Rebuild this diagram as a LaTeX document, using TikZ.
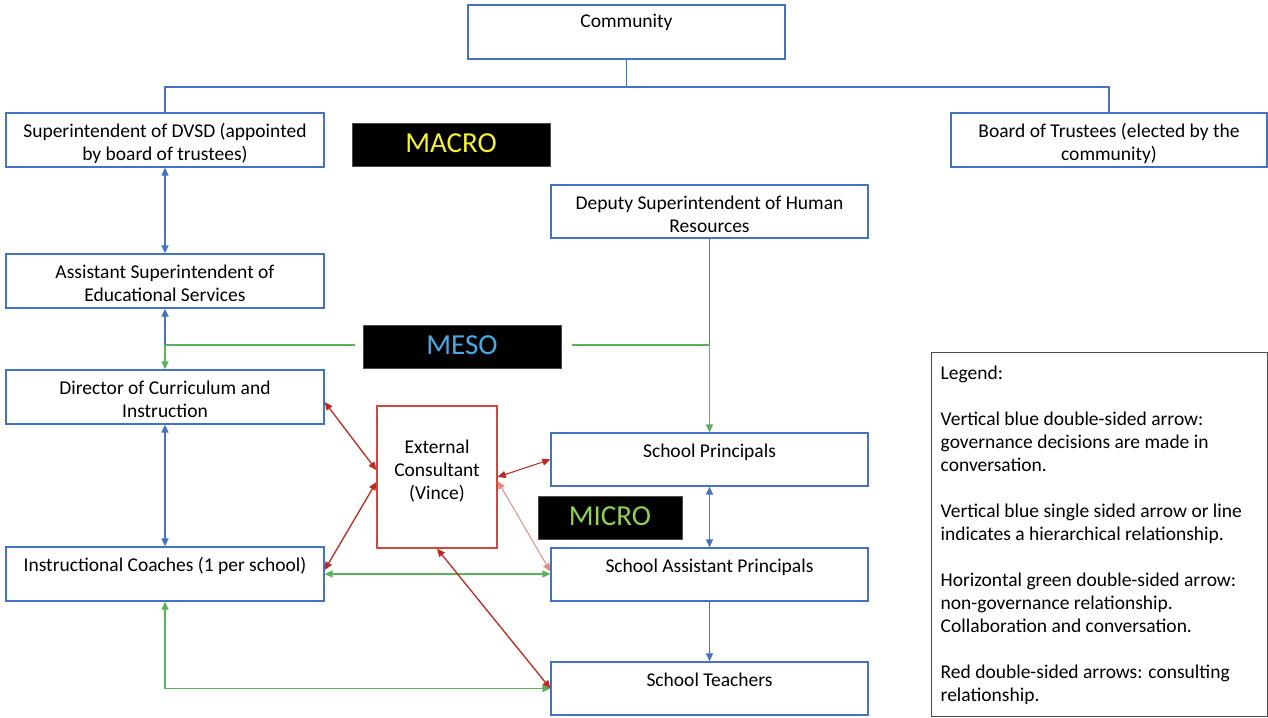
\documentclass[tikz,border=0pt]{standalone}
\usepackage{fontspec}
\setmainfont{Carlito}
\usetikzlibrary{arrows.meta}
\definecolor{bblue}{RGB}{68,114,196}
\definecolor{ggreen}{RGB}{90,178,90}
\definecolor{rred}{RGB}{190,40,30}
\definecolor{cred}{RGB}{210,70,60}
\definecolor{lred}{RGB}{228,140,130}
\definecolor{macroc}{RGB}{245,240,50}
\definecolor{mesoc}{RGB}{70,170,230}
\definecolor{microc}{RGB}{146,208,80}
\begin{document}
\begin{tikzpicture}[x=1pt,y=-1pt,
  font=\fontsize{19.5}{23}\selectfont,
  box/.style={draw=bblue, line width=1.3pt, minimum width=318pt, minimum height=54pt, inner sep=0pt},
  lbl/.style={anchor=north, align=center, inner sep=0pt},
  tag/.style={fill=black, draw=black!70, minimum width=198pt, minimum height=43pt, inner sep=0pt, font=\fontsize{29}{30}\selectfont},
  bline/.style={draw=bblue, line width=1.3pt},
  gline/.style={draw=ggreen, line width=1.3pt},
  rline/.style={draw=rred, line width=1.3pt},
  dbl/.style={{Triangle[length=8pt,width=7pt]}-{Triangle[length=8pt,width=7pt]}},
  sgl/.style={-{Triangle[length=8pt,width=7pt]}}
]
\useasboundingbox (0,0) rectangle (1268,717);

% boxes
\node[box, minimum width=317pt] (comm) at (626.5,32) {};
\node[box] (sup) at (165,140) {};
\node[box, minimum width=316pt] (board) at (1109,140) {};
\node[box, minimum width=317pt, minimum height=53pt] (dep) at (709.5,211.5) {};
\node[box] (asst) at (165,281) {};
\node[box] (dir) at (165,397) {};
\node[box] (coach) at (165,574) {};
\node[box, minimum width=317pt, minimum height=53pt] (sp) at (709.5,459.5) {};
\node[box, minimum width=317pt, minimum height=53pt] (ap) at (709.5,574.5) {};
\node[box, minimum width=317pt, minimum height=53pt] (teach) at (709.5,688.5) {};
\node[draw=cred, line width=1.3pt, minimum width=120pt, minimum height=142pt, inner sep=0pt] (cons) at (437,477) {};

% labels
\node[lbl] (commT) at ([yshift=-10pt]comm.north) {Community};
\node[lbl] (supT) at ([yshift=-11pt]sup.north) {Superintendent of DVSD (appointed\\by board of trustees)};
\node[lbl] (boardT) at ([yshift=-11pt]board.north) {Board of Trustees (elected by the\\community)};
\node[lbl] (depT) at ([yshift=-11pt]dep.north) {Deputy Superintendent of Human\\Resources};
\node[lbl] (asstT) at ([yshift=-11pt]asst.north) {Assistant Superintendent of\\Educational Services};
\node[lbl] (dirT) at ([yshift=-11pt]dir.north) {Director of Curriculum and\\Instruction};
\node[lbl] (coachT) at ([yshift=-11pt]coach.north) {Instructional Coaches (1 per school)};
\node[lbl] (spT) at ([yshift=-11pt]sp.north) {School Principals};
\node[lbl] (apT) at ([yshift=-11pt]ap.north) {School Assistant Principals};
\node[lbl] (teachT) at ([yshift=-11pt]teach.north) {School Teachers};
\node[align=center, inner sep=0pt] (consT) at ([yshift=6pt]cons.center) {External\\Consultant\\(Vince)};

% level tags
\node[tag, text=macroc] (macro) at (451,144.5) {\raisebox{2pt}{MACRO}};
\node[tag, text=mesoc] (meso) at (462,346.5) {\raisebox{2pt}{MESO}};
\node[tag, text=microc, minimum width=144pt] (micro) at (610,517.5) {\raisebox{2pt}{MICRO}};

% legend
\node[draw=black!70, line width=1pt, minimum width=336pt, minimum height=364pt, inner sep=0pt] (leg) at (1099,534) {};
\node[anchor=north west, align=left, inner sep=0pt] (legT) at ([xshift=10pt,yshift=-14pt]leg.north west) {Legend:\\[23pt]
Vertical blue double-sided arrow:\\governance decisions are made in\\conversation.\\[23pt]
Vertical blue single sided arrow or line\\indicates a hierarchical relationship.\\[23pt]
Horizontal green double-sided arrow:\\non-governance relationship.\\Collaboration and conversation.\\[23pt]
Red double-sided arrows: consulting\\relationship.};

% community tree
\coordinate (cj) at (626.5,87);
\draw[bline] (comm.south) -- (cj);
\draw[bline] (sup.north) -- (sup.north |- cj) -- (board.north |- cj) -- (board.north);

% blue vertical
\draw[bline, dbl] (sup.south) -- (asst.north);
\coordinate (mL) at (165,345);
\coordinate (mR) at (709.5,345);
\draw[bline, sgl] (mL) -- (asst.south);
\draw[bline] (dep.south) -- (mR);
\draw[bline, dbl] (dir.south) -- (coach.north);
\draw[bline, dbl] (sp.south) -- (ap.north);
\draw[bline, sgl] (ap.south) -- (teach.north);

% green
\draw[gline, sgl] (mL) -- (dir.north);
\draw[gline] (mL) -- ([xshift=-8pt]meso.west |- mL);
\draw[gline] ([xshift=11pt]meso.east |- mR) -- (mR);
\draw[gline, sgl] (mR) -- (sp.north);
\draw[gline, dbl] (coach.east) -- (coach.east -| ap.west);
\coordinate (cb) at (165,688.5);
\draw[gline, dbl] (coach.south) -- (cb) -- (teach.west);

% red
\draw[rline, dbl] ([yshift=-5pt]dir.east) -- ([yshift=7pt]cons.west);
\draw[rline, dbl] ([yshift=-5pt]cons.west) -- ([yshift=4pt]coach.east);
\draw[rline, line width=1pt, dbl] (cons.east) -- (sp.west);
\draw[draw=lred, line width=1pt, dbl] ([yshift=-4pt]cons.east) -- ([yshift=3pt]ap.west);
\draw[rline, dbl] (cons.south) -- (teach.west);
\end{tikzpicture}
\end{document}
